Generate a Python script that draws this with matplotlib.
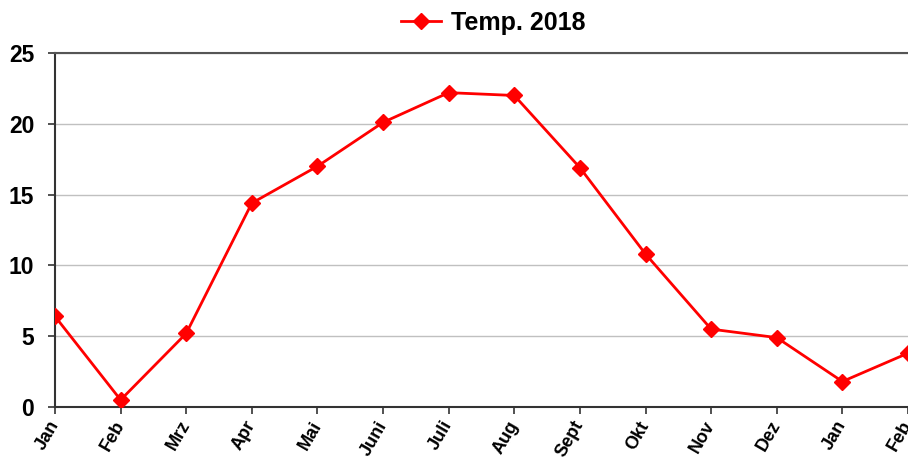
import os
import matplotlib.pyplot as plt
from matplotlib import font_manager

# monthly mean temperature, Jan 2018 .. Feb 2019
months = ['Jan', 'Feb', 'Mrz', 'Apr', 'Mai', 'Juni', 'Juli', 'Aug',
          'Sept', 'Okt', 'Nov', 'Dez', 'Jan', 'Feb']
temps = [6.4, 0.5, 5.2, 14.4, 17.0, 20.1, 22.2, 22.0,
         16.9, 10.8, 5.5, 4.9, 1.8, 3.8]
yticks = [0, 5, 10, 15, 20, 25]

# make sure the regular-width bold Liberation Sans is used (not the Narrow one)
bold_path = None
for f in font_manager.fontManager.ttflist:
    if os.path.basename(f.fname) == 'LiberationSans-Bold.ttf':
        bold_path = f.fname
        break


def fp(size):
    if bold_path:
        return font_manager.FontProperties(fname=bold_path, size=size)
    return font_manager.FontProperties(family='Liberation Sans', weight='bold', size=size)


fig = plt.figure(figsize=(9.08, 4.62), dpi=100)
ax = fig.add_axes([55 / 908, 55 / 462, 853 / 908, 354 / 462])

x = list(range(len(months)))
ax.plot(x, temps, color='#ff0000', linewidth=2, marker='D', markersize=8,
        label='Temp. 2018', zorder=3)

ax.set_xlim(0, len(months) - 1)
ax.set_ylim(0, 25)
ax.set_yticks(yticks)
ax.set_yticklabels([str(v) for v in yticks], fontproperties=fp(16.5))
ax.set_xticks(x)
ax.set_xticklabels(months, fontproperties=fp(13), rotation=60,
                   ha='right', va='center', rotation_mode='anchor')
ax.tick_params(axis='both', direction='out', length=5, width=1.2, color='#333333')
ax.tick_params(axis='y', pad=10)
ax.tick_params(axis='x', pad=6)

ax.grid(axis='y', color='#c0c0c0', linewidth=1)
ax.set_axisbelow(True)
for side in ['left', 'bottom']:
    ax.spines[side].set_color('#333333')
    ax.spines[side].set_linewidth(1.5)
ax.spines['top'].set_color('#555555')
ax.spines['top'].set_linewidth(1.5)
ax.spines['right'].set_visible(False)

fig.legend(loc='upper center', bbox_to_anchor=(0.543, 1.025), frameon=False,
           prop=fp(18), handlelength=1.6, handletextpad=0.4)

plt.savefig('out.png', dpi=100)
